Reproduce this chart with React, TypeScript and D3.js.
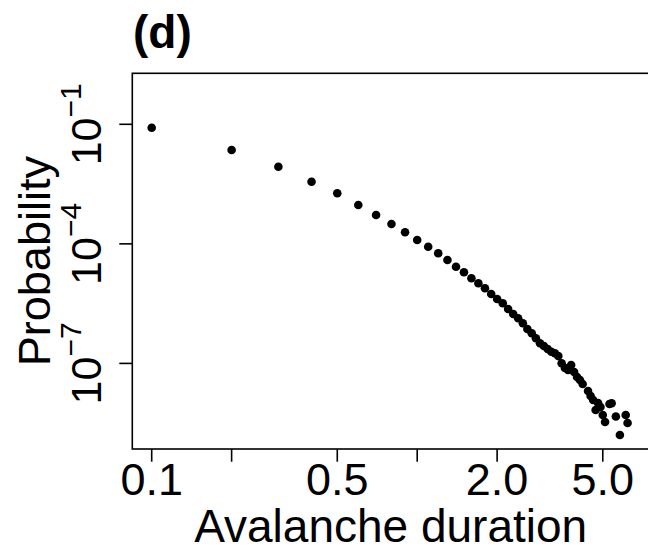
import React from "react";
import * as d3 from "d3";

const durations = [
  0.1, 0.2, 0.3, 0.4, 0.5, 0.6, 0.7, 0.8, 0.9, 1.0,
  1.1, 1.2, 1.3, 1.4, 1.5, 1.6, 1.7, 1.8, 1.9, 2.0,
  2.1, 2.2, 2.3, 2.4, 2.5, 2.6, 2.7, 2.8, 2.9, 3.0,
  3.1, 3.2, 3.3, 3.4, 3.5, 3.6, 3.7, 3.8, 3.9, 4.0,
  4.1, 4.2, 4.4, 4.5, 4.6, 4.7, 4.8, 4.9, 5.0, 5.1,
  5.3, 5.4, 5.6, 5.8, 6.1, 6.2,
];
// log10 of probability
const logProb = [
  -1.085, -1.645, -2.064, -2.44, -2.731, -3.025, -3.276, -3.502, -3.71, -3.902,
  -4.071, -4.237, -4.405, -4.573, -4.714, -4.864, -4.99, -5.115, -5.258, -5.384,
  -5.492, -5.635, -5.76, -5.868, -5.994, -6.137, -6.245, -6.37, -6.496, -6.564,
  -6.639, -6.706, -6.747, -6.814, -6.997, -7.115, -7.166, -7.04, -7.216, -7.341,
  -7.417, -7.517, -7.693, -7.818, -7.918, -8.169, -7.994, -8.094, -8.295, -8.47,
  -8.02, -8.001, -8.333, -8.797, -8.295, -8.496,
];
const probabilities = logProb.map((v) => Math.pow(10, v));

const xTicks = [0.1, 0.2, 0.5, 1.0, 2.0, 5.0];
const xTickLabels = ["0.1", "", "0.5", "", "2.0", "5.0"];
const yTicks = [1e-1, 1e-4, 1e-7];
const yTickExps = ["−1", "−4", "−7"];

const W = 648;
const H = 552;
const left = 132.3;
const right = 649;
const top = 73.3;
const bottom = 449;

export default function App() {
  const xDec = 265.5;
  const x0 = 151.7;
  const xScale = d3
    .scaleLog()
    .domain([0.1 * Math.pow(10, (left - x0) / xDec), 0.1 * Math.pow(10, (right - x0) / xDec)])
    .range([left, right]);
  const yDec = 39.85;
  const y0 = 124.3;
  const yScale = d3
    .scaleLog()
    .domain([
      Math.pow(10, -1 - (bottom - y0) / yDec),
      Math.pow(10, -1 + (y0 - top) / yDec),
    ])
    .range([bottom, top]);

  const font = "Liberation Sans, Arial, Helvetica, sans-serif";

  return (
    <svg
      width={W}
      height={H}
      style={{ position: "absolute", left: 0, top: 0, background: "#fff" }}
      fontFamily={font}
    >
      <rect x={0} y={0} width={W} height={H} fill="#fff" />
      <text x={133} y={48} fontSize={46} fontWeight="bold" fill="#000">
        (d)
      </text>
      <rect
        x={left}
        y={top}
        width={right - left}
        height={bottom - top}
        fill="none"
        stroke="#000"
        strokeWidth={1.6}
      />
      {xTicks.map((t, i) => (
        <g key={"xt" + i}>
          <line
            x1={xScale(t)}
            x2={xScale(t)}
            y1={bottom}
            y2={bottom + 12.7}
            stroke="#000"
            strokeWidth={1.6}
          />
          {xTickLabels[i] && (
            <text
              x={xScale(t)}
              y={495}
              fontSize={45}
              textAnchor="middle"
              fill="#000"
            >
              {xTickLabels[i]}
            </text>
          )}
        </g>
      ))}
      {yTicks.map((t, i) => (
        <g key={"yt" + i}>
          <line
            x1={left - 13}
            x2={left}
            y1={yScale(t)}
            y2={yScale(t)}
            stroke="#000"
            strokeWidth={1.6}
          />
          <text
            transform={`translate(101,${yScale(t)}) rotate(-90)`}
            textAnchor="middle"
            fontSize={43}
            fill="#000"
          >
            10
            <tspan fontSize={30} dy={-20}>
              {yTickExps[i]}
            </tspan>
          </text>
        </g>
      ))}
      <text
        transform={`translate(50,${(top + bottom) / 2}) rotate(-90)`}
        textAnchor="middle"
        fontSize={45}
        fill="#000"
      >
        Probability
      </text>
      <text
        x={(left + right) / 2}
        y={542}
        textAnchor="middle"
        fontSize={46}
        fill="#000"
      >
        Avalanche duration
      </text>
      {durations.map((d, i) => (
        <circle
          key={"p" + i}
          cx={xScale(d)}
          cy={yScale(probabilities[i])}
          r={4.3}
          fill="#000"
        />
      ))}
    </svg>
  );
}
